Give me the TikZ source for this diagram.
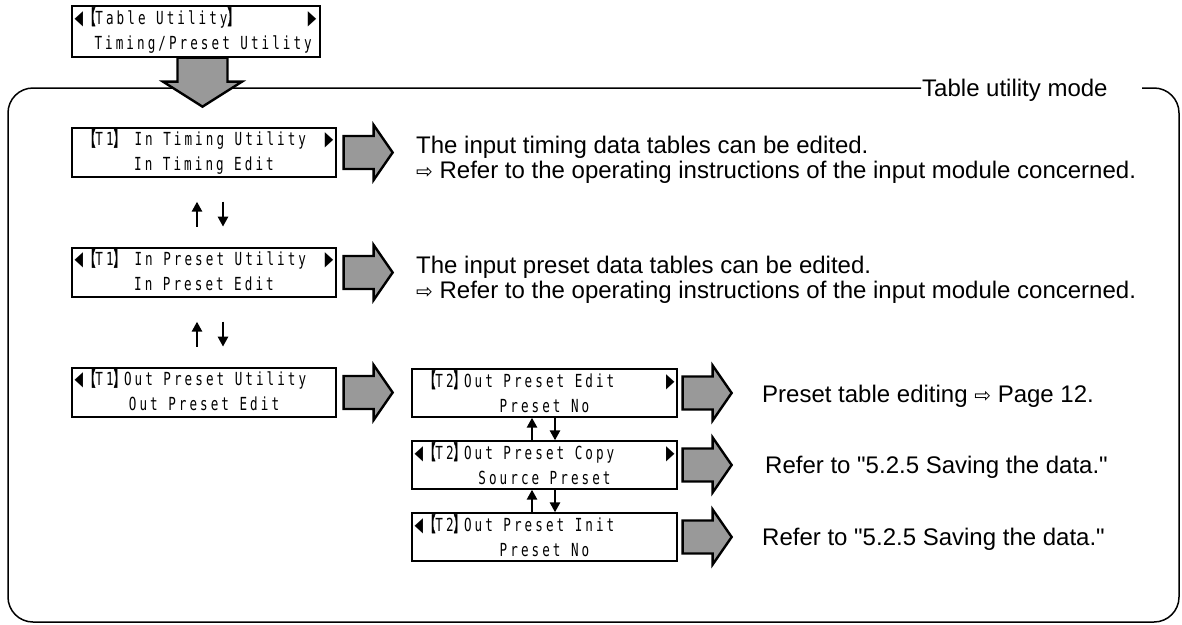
\documentclass[tikz,border=0pt]{standalone}
\usepackage{fontspec}
\setmainfont{Liberation Sans}[Ligatures=TeXOff]
\newfontfamily\lcdfont{DejaVu Sans Mono}[FakeStretch=0.7,LetterSpace=17]
\newfontfamily\lcdbrfont{Noto Sans CJK JP}[FakeStretch=0.52,FakeBold=2]
\newfontfamily\lcdsymfont{DejaVu Sans}[FakeStretch=0.55]
\newfontfamily\symfont{DejaVu Sans}
\usetikzlibrary{arrows.meta}

\definecolor{arrowgray}{RGB}{153,153,153}

% LCD character cells
\newcommand\lcdsize{\fontsize{18}{22}\selectfont}
\newcommand\lcdset{\lcdfont\lcdsize\fontdimen2\font=10.5pt\relax
  \fontdimen3\font=0pt\relax\fontdimen4\font=0pt\relax}
\newcommand\lcdL{{\lcdsymfont\fontsize{20}{20}\selectfont\makebox[10.5pt][l]{◀}}}
\newcommand\lcdR{{\lcdsymfont\fontsize{20}{20}\selectfont ▶}}
\newcommand\lcdB{\hspace*{10.5pt}}
\newcommand\lcdlbr{{\lcdbrfont\fontsize{20}{22}\selectfont 【}}
\newcommand\lcdrbr{{\lcdbrfont\fontsize{20}{22}\selectfont 】}}
\newcommand\hint{{\symfont\fontsize{20}{20}\selectfont ⇨}}

% block arrows: tail middle given as a coordinate
\newcommand\rightblock[1]{%
  \draw[blockarrow] (#1) ++(0,-16.5) -- ++(30,0) -- ++(0,-11) -- ++(19,27.5)
    -- ++(-19,27.5) -- ++(0,-11) -- ++(-30,0) -- cycle;}

\tikzset{
  lcdbox/.style={draw, line width=1.3pt, inner sep=0pt, minimum width=264pt, minimum height=49pt},
  lcdline/.style={inner sep=0pt, anchor=base west, font=\lcdset},
  lcdmid/.style={lcdline, anchor=base},
  lcdtri/.style={inner sep=0pt, anchor=base east},
  desc/.style={inner sep=0pt, anchor=base west, font=\fontsize{24}{28}\selectfont},
  blockarrow/.style={draw=black, line width=2.4pt, fill=arrowgray, line join=miter},
  updown/.style={line width=2.6pt, -{Triangle[width=10pt,length=10pt]}},
}

\begin{document}
\begin{tikzpicture}[x=1pt, y=-1pt]
\useasboundingbox (0,0) rectangle (1182,624);

% ---- top display ----
\node[lcdbox, minimum width=248pt, minimum height=51pt] (tu) at (196,31.5) {};
\node[lcdline] (tu1) at ([xshift=3pt,yshift=-19pt]tu.north west) {\lcdL\lcdlbr Table Utility\lcdrbr};
\node[lcdtri] (tu1r) at ([xshift=-4pt,yshift=-19pt]tu.north east) {\lcdR};
\node[lcdline] (tu2) at ([xshift=23pt,yshift=-44pt]tu.north west) {Timing/Preset Utility};

% ---- mode frame ----
\node[desc, inner xsep=1pt] (mode) at (921,96) {Table utility mode};
\draw[line width=1.5pt, rounded corners=25pt]
  (mode.base west |- 0,88) -- (8,88) -- (8,622) -- (1179,622) -- (1179,88) -- (1142,88);

% entry arrow into the mode
\draw[blockarrow] ([xshift=6.5pt]tu.south) ++(-25,0) -- ++(0,24) -- ++(-14.5,0)
  -- ++(39.5,25) -- ++(39.5,-25) -- ++(-14.5,0) -- ++(0,-24) -- cycle;

% ---- level T1 ----
\node[lcdbox] (ta) at (204,152.5) {};
\node[lcdline] (ta1) at ([xshift=3pt,yshift=-18.5pt]ta.north west) {\lcdB\lcdlbr T1\lcdrbr\ In Timing Utility};
\node[lcdtri] (ta1r) at ([xshift=-3pt,yshift=-18.5pt]ta.north east) {\lcdR};
\node[lcdmid] (ta2) at ([yshift=-43pt]ta.north) {In Timing Edit};

\node[lcdbox] (tb) at (204,272.5) {};
\node[lcdline] (tb1) at ([xshift=3pt,yshift=-18.5pt]tb.north west) {\lcdL\lcdlbr T1\lcdrbr\ In Preset Utility};
\node[lcdtri] (tb1r) at ([xshift=-3pt,yshift=-18.5pt]tb.north east) {\lcdR};
\node[lcdmid] (tb2) at ([yshift=-43pt]tb.north) {In Preset Edit};

\node[lcdbox] (tc) at (204,392.5) {};
\node[lcdline] (tc1) at ([xshift=3pt,yshift=-18.5pt]tc.north west) {\lcdL\lcdlbr T1\lcdrbr Out Preset Utility};
\node[lcdmid] (tc2) at ([yshift=-43pt]tc.north) {Out Preset Edit};

\rightblock{[xshift=7pt]ta.east}
\rightblock{[xshift=7pt]tb.east}
\rightblock{[xshift=7pt]tc.east}

\draw[updown] ([xshift=-7pt,yshift=-49pt]ta.south) -- ([xshift=-7pt,yshift=-24pt]ta.south);
\draw[updown] ([xshift=19pt,yshift=-24pt]ta.south) -- ([xshift=19pt,yshift=-49pt]ta.south);
\draw[updown] ([xshift=-7pt,yshift=-49pt]tb.south) -- ([xshift=-7pt,yshift=-24pt]tb.south);
\draw[updown] ([xshift=19pt,yshift=-24pt]tb.south) -- ([xshift=19pt,yshift=-49pt]tb.south);

\node[desc] (da1) at (416,153) {The input timing data tables can be edited.};
\node[desc] (da2) at (416,178) {\hint\ Refer to the operating instructions of the input module concerned.};
\node[desc] (db1) at (416,273) {The input preset data tables can be edited.};
\node[desc] (db2) at (416,298) {\hint\ Refer to the operating instructions of the input module concerned.};

% ---- level T2 ----
\node[lcdbox, minimum width=265pt, minimum height=48pt] (te) at (544.5,393) {};
\node[lcdline] (te1) at ([xshift=3pt,yshift=-19pt]te.north west) {\lcdB\lcdlbr T2\lcdrbr Out Preset Edit};
\node[lcdtri] (te1r) at ([xshift=-3pt,yshift=-19pt]te.north east) {\lcdR};
\node[lcdmid] (te2) at ([yshift=-44pt]te.north) {Preset No};

\node[lcdbox, minimum width=265pt, minimum height=48pt] (tcp) at (544.5,465) {};
\node[lcdline] (tcp1) at ([xshift=3pt,yshift=-19pt]tcp.north west) {\lcdL\lcdlbr T2\lcdrbr Out Preset Copy};
\node[lcdtri] (tcp1r) at ([xshift=-3pt,yshift=-19pt]tcp.north east) {\lcdR};
\node[lcdmid] (tcp2) at ([yshift=-44pt]tcp.north) {Source Preset};

\node[lcdbox, minimum width=265pt, minimum height=48pt] (ti) at (544.5,537) {};
\node[lcdline] (ti1) at ([xshift=3pt,yshift=-19pt]ti.north west) {\lcdL\lcdlbr T2\lcdrbr Out Preset Init};
\node[lcdmid] (ti2) at ([yshift=-44pt]ti.north) {Preset No};

\rightblock{[xshift=5pt]te.east}
\rightblock{[xshift=5pt]tcp.east}
\rightblock{[xshift=5pt]ti.east}

\draw[updown] ([xshift=-12.5pt]tcp.north) -- ([xshift=-12.5pt]te.south);
\draw[updown] ([xshift=10.5pt]te.south) -- ([xshift=10.5pt]tcp.north);
\draw[updown] ([xshift=-12.5pt]ti.north) -- ([xshift=-12.5pt]tcp.south);
\draw[updown] ([xshift=10.5pt]tcp.south) -- ([xshift=10.5pt]ti.north);

\node[desc] (de) at (762,402) {Preset table editing \hint\ Page 12.};
\node[desc] (dcp) at (765,473) {Refer to "5.2.5 Saving the data."};
\node[desc] (di) at (762,545) {Refer to "5.2.5 Saving the data."};
\end{tikzpicture}
\end{document}
